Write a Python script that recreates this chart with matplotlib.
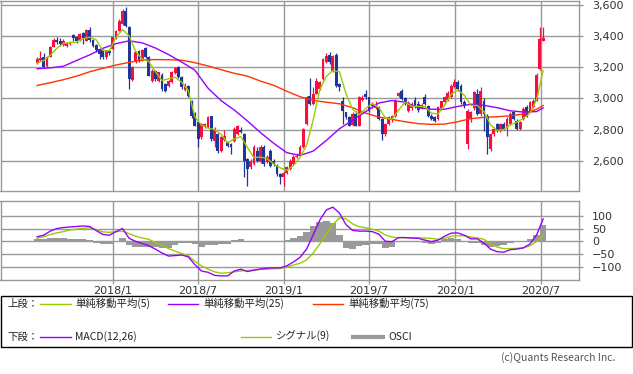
import matplotlib
matplotlib.use("Agg")
import matplotlib.pyplot as plt
import matplotlib.dates as mdates
from matplotlib.lines import Line2D
from matplotlib.patches import Rectangle
from matplotlib.ticker import FuncFormatter
import pandas as pd

plt.rcParams["font.family"] = ["DejaVu Sans", "Noto Sans CJK JP"]

# weekly candles, first week starting 2017-07-24
FIRST_WEEK = "2017-07-24"

opens = [
    3227, 3245, 3263, 3205, 3267, 3331, 3374, 3367, 3342, 3338,
    3350, 3406, 3395, 3374, 3417, 3370, 3438, 3374, 3344, 3316,
    3310, 3263, 3306, 3316, 3387, 3434, 3476, 3562, 3455, 3118,
    3231, 3306, 3242, 3321, 3263, 3114, 3174, 3114, 3152, 3093,
    3082, 3103, 3161, 3203, 3135, 3054, 3082, 2986, 2905, 2847,
    2751, 2820, 2815, 2884, 2730, 2773, 2666, 2735, 2720, 2709,
    2730, 2773, 2800, 2773, 2613, 2560, 2581, 2666, 2592, 2688,
    2592, 2666, 2602, 2570, 2517, 2496, 2521, 2549, 2581, 2624,
    2634, 2688, 2837, 3018, 2965, 3029, 3061, 3125, 3231, 3280,
    3178, 3280, 3093, 2986, 2910, 2879, 2832, 2900, 2826, 2990,
    3030, 3007, 2950, 2940, 2943, 2869, 2773, 2837, 2860, 2890,
    3018, 3050, 3000, 2920, 2935, 2990, 2965, 2940, 3007, 2952,
    2890, 2880, 2869, 2935, 2975, 2990, 3007, 3070, 3103, 3082,
    2975, 2709, 2869, 2935, 3029, 2901, 2986, 2890, 2677, 2773,
    2837, 2794, 2837, 2815, 2837, 2910, 2858, 2805, 2869, 2943,
    2922, 2943, 2986, 3189, 3370,
]
highs = [
    3265, 3306, 3290, 3270, 3335, 3387, 3391, 3387, 3380, 3358,
    3365, 3412, 3400, 3417, 3423, 3445, 3455, 3378, 3350, 3320,
    3316, 3306, 3316, 3395, 3440, 3505, 3570, 3587, 3460, 3205,
    3300, 3312, 3316, 3327, 3270, 3185, 3180, 3170, 3160, 3100,
    3120, 3178, 3199, 3210, 3140, 3095, 3088, 2990, 2910, 2850,
    2845, 2845, 2890, 2890, 2815, 2780, 2760, 2795, 2730, 2715,
    2815, 2830, 2815, 2780, 2620, 2612, 2700, 2690, 2700, 2700,
    2635, 2675, 2610, 2580, 2522, 2530, 2570, 2612, 2640, 2650,
    2700, 2810, 3015, 3130, 3075, 3130, 3110, 3260, 3290, 3295,
    3280, 3290, 3095, 3007, 2915, 2890, 2910, 2920, 3015, 3020,
    3054, 3010, 2975, 2980, 2950, 2875, 2845, 2890, 2895, 2995,
    3040, 3060, 3010, 2980, 2975, 3010, 2980, 2970, 3030, 2960,
    2900, 2885, 2950, 2985, 3015, 3045, 3090, 3125, 3115, 3090,
    2990, 2930, 2920, 3050, 3060, 3071, 3000, 2900, 2780, 2815,
    2845, 2845, 2850, 2880, 2910, 2920, 2865, 2855, 2945, 2955,
    2985, 2995, 3160, 3455, 3455,
]
lows = [
    3220, 3240, 3199, 3199, 3262, 3327, 3348, 3338, 3335, 3330,
    3340, 3370, 3352, 3365, 3348, 3365, 3359, 3327, 3295, 3252,
    3252, 3252, 3275, 3310, 3380, 3430, 3470, 3455, 3061, 3110,
    3225, 3235, 3236, 3255, 3140, 3105, 3110, 3105, 3050, 3040,
    3075, 3095, 3155, 3130, 3060, 3045, 3010, 2875, 2820, 2688,
    2740, 2810, 2810, 2730, 2688, 2650, 2655, 2725, 2690, 2645,
    2720, 2765, 2775, 2496, 2442, 2550, 2575, 2590, 2585, 2570,
    2585, 2560, 2570, 2500, 2453, 2442, 2515, 2540, 2575, 2615,
    2630, 2680, 2830, 2955, 2960, 3025, 3055, 3120, 3225, 3220,
    3170, 3075, 3050, 2837, 2870, 2820, 2825, 2820, 2820, 2980,
    2995, 2915, 2940, 2930, 2860, 2734, 2760, 2830, 2850, 2880,
    3010, 2990, 2955, 2910, 2925, 2935, 2915, 2930, 2955, 2880,
    2860, 2850, 2860, 2925, 2965, 2980, 3000, 3065, 3050, 2965,
    2940, 2677, 2847, 2925, 2895, 2890, 2794, 2645, 2665, 2760,
    2785, 2785, 2795, 2762, 2830, 2860, 2795, 2800, 2860, 2880,
    2915, 2935, 2980, 3180, 3365,
]
closes = [
    3253, 3260, 3203, 3265, 3331, 3374, 3359, 3350, 3370, 3353,
    3357, 3387, 3370, 3412, 3387, 3438, 3374, 3338, 3310, 3284,
    3263, 3302, 3290, 3391, 3429, 3498, 3562, 3466, 3125, 3199,
    3295, 3242, 3310, 3263, 3146, 3178, 3125, 3167, 3061, 3046,
    3114, 3171, 3193, 3139, 3071, 3088, 3018, 2884, 2826, 2741,
    2837, 2835, 2879, 2741, 2805, 2666, 2751, 2762, 2698, 2688,
    2805, 2820, 2785, 2602, 2549, 2602, 2688, 2602, 2688, 2581,
    2624, 2570, 2581, 2517, 2496, 2521, 2560, 2602, 2624, 2634,
    2688, 2805, 3007, 2965, 3029, 3114, 3103, 3252, 3274, 3231,
    3274, 3082, 3071, 2922, 2879, 2826, 2900, 2826, 3007, 3005,
    3007, 2922, 2965, 2955, 2869, 2773, 2837, 2879, 2885, 2986,
    3033, 2997, 2965, 2970, 2965, 2945, 2925, 2960, 2965, 2890,
    2869, 2858, 2943, 2980, 3007, 3035, 3082, 3103, 3061, 2975,
    2950, 2922, 2911, 3040, 2901, 3050, 2901, 2751, 2773, 2805,
    2794, 2837, 2805, 2869, 2900, 2869, 2805, 2847, 2932, 2890,
    2975, 2986, 3152, 3380, 3387,
]

# moving averages (week index -> value)
ma_long_weeks = list(range(0, 153, 4)) + [154]
ma75 = [
    3082, 3100, 3119, 3142, 3170, 3192, 3213, 3230, 3245, 3248,
    3247, 3244, 3228, 3207, 3183, 3160, 3142, 3110, 3083, 3045,
    3010, 2987, 2975, 2965, 2940, 2905, 2880, 2865, 2850, 2838,
    2833, 2835, 2850, 2870, 2878, 2882, 2888, 2900, 2930, 2954,
]
ma25 = [
    3189, 3195, 3205, 3242, 3278, 3320, 3350, 3368, 3355, 3322,
    3280, 3232, 3180, 3065, 2985, 2925, 2855, 2780, 2712, 2652,
    2634, 2662, 2730, 2805, 2860, 2915, 2970, 2986, 2975, 2940,
    2930, 2930, 2948, 2962, 2955, 2940, 2920, 2912, 2915, 2939,
]
short_weeks = list(range(0, 155, 2))
ma5 = [
    3225, 3242, 3275, 3320, 3352, 3355, 3360, 3382, 3391, 3374,
    3306, 3304, 3390, 3440, 3400, 3300, 3250, 3235, 3170, 3114,
    3125, 3135, 3103, 3050, 2880, 2830, 2810, 2800, 2770, 2715,
    2740, 2755, 2685, 2620, 2624, 2615, 2580, 2555, 2538, 2570,
    2620, 2700, 2860, 3055, 3140, 3178, 3170, 3030, 2930, 2895,
    2935, 2967, 2940, 2875, 2866, 2925, 2975, 2950, 2948, 2948,
    2905, 2900, 2955, 3025, 3054, 3020, 2955, 2954, 2915, 2830,
    2794, 2800, 2830, 2848, 2872, 2905, 2990, 3178,
]

# lower panel (same week index as ma5)
macd = [
    18, 24, 40, 50, 54, 56, 58, 60, 58, 42,
    27, 24, 38, 50, 12, 0, -8, -17, -30, -45,
    -57, -55, -53, -60, -90, -115, -120, -132, -134, -134,
    -115, -108, -117, -112, -107, -104, -103, -103, -95, -80,
    -62, -30, 25, 82, 122, 133, 110, 65, 43, 40,
    40, 38, 28, 0, -1, 15, 15, 13, 12, 5,
    -1, 5, 20, 32, 33, 24, 10, 10, -7, -30,
    -40, -42, -32, -30, -25, -10, 25, 87,
]
signal = [
    12, 18, 27, 33, 38, 44, 48, 51, 53, 45,
    37, 35, 38, 40, 30, 20, 13, 8, -5, -15,
    -28, -38, -47, -56, -77, -95, -108, -118, -124, -122,
    -118, -115, -113, -111, -109, -108, -106, -105, -100, -92,
    -85, -72, -45, -10, 30, 65, 92, 88, 68, 57,
    53, 47, 40, 25, 17, 14, 14, 14, 14, 13,
    12, 8, 12, 20, 22, 22, 17, 14, 8, -10,
    -22, -28, -28, -27, -25, -17, 0, 25,
]
osci = [
    8, 10, 13, 15, 14, 10, 9, 8, 5, -5,
    -12, -10, 3, 12, -15, -20, -20, -22, -23, -25,
    -25, -15, -8, -5, -12, -20, -15, -14, -10, -10,
    5, 8, -3, -2, 2, 3, 3, 2, 5, 12,
    20, 38, 60, 75, 80, 70, 25, -25, -28, -18,
    -13, -10, -12, -25, -20, 2, 3, 0, -2, -8,
    -12, -5, 8, 12, 11, 2, -7, -5, -15, -20,
    -18, -14, -5, -3, 2, 8, 25, 62,
]

price_ticks = [2600, 2800, 3000, 3200, 3400, 3600]
macd_ticks = [100, 50, 0, -50, -100]
date_ticks = ["2018-01-01", "2018-07-01", "2019-01-01",
              "2019-07-01", "2020-01-01", "2020-07-01"]
date_labels = ["2018/1", "2018/7", "2019/1", "2019/7", "2020/1", "2020/7"]

UP = "#f5103f"
DOWN = "#1f3597"
C_MA5 = "#99cc00"
C_MA25 = "#9900ff"
C_MA75 = "#ff3300"
C_OSCI = "#999999"
GRID = "#999999"
JP = ["Noto Sans CJK JP", "DejaVu Sans"]

W, H = 633, 374
fig = plt.figure(figsize=(W / 100, H / 100), dpi=100)
fig.patch.set_facecolor("white")


def box(x0, y0, x1, y1):
    return [x0 / W, 1 - y1 / H, (x1 - x0) / W, (y1 - y0) / H]


ax = fig.add_axes(box(0.5, 0.5, 579.3, 190.5))
ax2 = fig.add_axes(box(0.5, 201, 579.3, 280))

weeks = pd.date_range(FIRST_WEEK, periods=len(closes), freq="7D")
x = mdates.date2num(weeks)
xs = x[short_weeks]
xl = x[ma_long_weeks]
tick_x = mdates.date2num(pd.to_datetime(date_ticks))
xlim = mdates.date2num(pd.to_datetime(["2017-05-07", "2020-09-21"]))

for a in (ax, ax2):
    a.set_xlim(*xlim)
    a.set_xticks(tick_x)
    a.grid(True, color=GRID, lw=1.0)
    a.set_axisbelow(True)
    for s in a.spines.values():
        s.set_color(GRID)
        s.set_linewidth(1.0)
    a.yaxis.tick_right()
    a.tick_params(axis="y", colors=GRID, labelcolor="#333333",
                  length=3, width=1.0, pad=6, labelsize=8)

# candles
cols = [UP if c >= o else DOWN for o, c in zip(opens, closes)]
bottoms = [min(o, c) for o, c in zip(opens, closes)]
heights = [max(abs(c - o), 5) for o, c in zip(opens, closes)]
ax.vlines(x, lows, highs, colors=cols, lw=0.9, zorder=2)
ax.bar(x, heights, bottom=bottoms, width=6.0, color=cols, lw=0, zorder=3)

ax.plot(xl, ma75, color=C_MA75, lw=1.0, zorder=4)
ax.plot(xl, ma25, color=C_MA25, lw=1.0, zorder=4)
ax.plot(xs, ma5, color=C_MA5, lw=1.0, zorder=5)

ax.set_ylim(2410, 3626)
ax.set_yticks(price_ticks)
ax.yaxis.set_major_formatter(FuncFormatter(lambda v, p: f"{v:,.0f}"))
ax.tick_params(axis="x", length=0, labelbottom=False)

# MACD panel
ax2.bar(xs, osci, width=14, color=C_OSCI, lw=0, zorder=2)
ax2.plot(xs, signal, color=C_MA5, lw=1.0, zorder=3)
ax2.plot(xs, macd, color=C_MA25, lw=1.0, zorder=4)
ax2.set_ylim(-150, 157)
ax2.set_yticks(macd_ticks)
ax2.set_xticklabels(date_labels)
ax2.tick_params(axis="x", colors=GRID, labelcolor="#333333",
                length=3, width=1.0, pad=1, labelsize=8)

# legend box
fig.add_artist(Rectangle((0.5 / W, 1 - 346.5 / H), 631.5 / W, 51 / H,
                         transform=fig.transFigure, fill=False,
                         ec="black", lw=1.0))


def key(x0, x1, y, color, lw=1.0):
    fig.add_artist(Line2D([x0 / W, x1 / W], [1 - y / H, 1 - y / H],
                          transform=fig.transFigure, color=color, lw=lw))


def label(x0, y, s):
    fig.text(x0 / W, 1 - y / H, s, ha="left", va="center", fontsize=7.5,
             color="#222222", family=JP)


row1, row2 = 303.5, 336.5
label(7, row1, "上段：")
key(40, 71, row1, C_MA5)
label(75, row1, "単純移動平均(5)")
key(168, 198, row1, C_MA25)
label(203, row1, "単純移動平均(25)")
key(313, 343, row1, C_MA75)
label(348, row1, "単純移動平均(75)")

label(7, row2, "下段：")
key(40, 71, row2, C_MA25)
label(75, row2, "MACD(12,26)")
key(241, 271, row2, C_MA5)
label(276, row2, "シグナル(9)")
key(353, 383, row2, C_OSCI, lw=3.0)
label(388, row2, "OSCI")

fig.text(615 / W, 1 - 358 / H, "(c)Quants Research Inc.", ha="right",
         va="center", fontsize=7.5, color="#555555", family=JP)

fig.savefig("out.png", dpi=100, facecolor="white")
